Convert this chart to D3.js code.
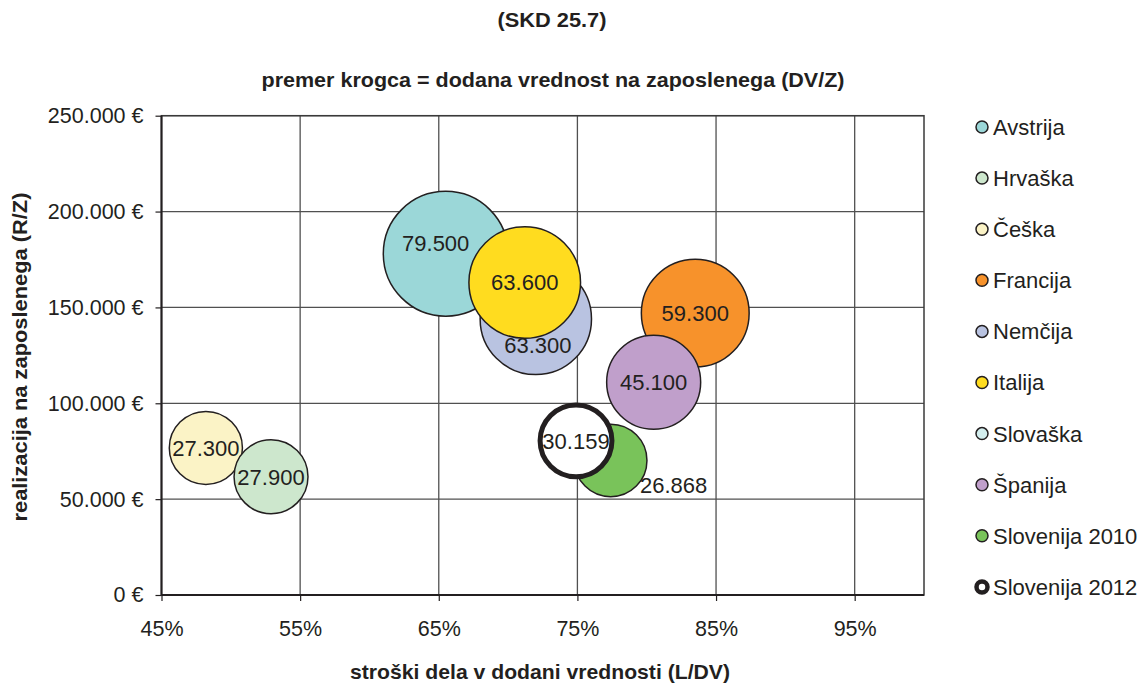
<!DOCTYPE html>
<html>
<head>
<meta charset="utf-8">
<script src="https://cdn.jsdelivr.net/npm/d3@7"></script>
<style>
  body { margin: 0; background: #fff; }
  text { font-family: "Liberation Sans", Arial, sans-serif; fill: #231f20; }
</style>
</head>
<body>
<svg id="chart" width="1141" height="685"></svg>
<script>
// data
const countries = ["Avstrija", "Hrvaška", "Češka", "Francija", "Nemčija", "Italija", "Slovaška", "Španija", "Slovenija 2010", "Slovenija 2012"];
const laborShare = [0.655, 0.529, 0.482, 0.835, 0.720, 0.712, null, 0.805, 0.774, 0.749];   // L/DV
const revenuePerEmp = [178000, 61700, 76700, 147000, 144000, 163000, null, 111000, 70200, 80400]; // R/Z
const valueAdded = [79500, 27900, 27300, 59300, 63300, 63600, null, 45100, 26868, 30159];        // DV/Z
const colors = ["#9bd7d8", "#cde7cd", "#fbf3c6", "#f7922b", "#b9c3e1", "#ffdc1f", "#d3eeee", "#c09fcb", "#79c35a", "#ffffff"];
const xTicks = [0.45, 0.55, 0.65, 0.75, 0.85, 0.95];
const yTicks = [0, 50000, 100000, 150000, 200000, 250000];

const svg = d3.select("#chart");
svg.append("rect").attr("width", 1141).attr("height", 685).attr("fill", "#fff");

const pLeft = 161.5, pRight = 924, pTop = 115.7, pBottom = 595;

const x = d3.scaleLinear().domain([0.45, 1.0]).range([pLeft, pRight]);
const y = d3.scaleLinear().domain([0, 250000]).range([pBottom, pTop]);
const r = d3.scaleSqrt().domain([0, 79500]).range([0, 62.4]);

const loc = d3.formatLocale({ decimal: ",", thousands: ".", grouping: [3], currency: ["", " €"] });
const fmtNum = loc.format(",d");
const fmtEur = d => fmtNum(d) + " €";

// grid lines
const grid = svg.append("g");
grid.selectAll(".gx").data(xTicks.slice(1)).enter().append("line")
  .attr("x1", d => x(d)).attr("x2", d => x(d))
  .attr("y1", pTop).attr("y2", pBottom)
  .attr("stroke", "#505050").attr("stroke-width", 1.3);
grid.selectAll(".gy").data(yTicks.slice(1)).enter().append("line")
  .attr("x1", pLeft).attr("x2", pRight)
  .attr("y1", d => y(d)).attr("y2", d => y(d))
  .attr("stroke", "#505050").attr("stroke-width", 1.3);

// plot border
svg.append("rect")
  .attr("x", pLeft).attr("y", pTop)
  .attr("width", pRight - pLeft).attr("height", pBottom - pTop)
  .attr("fill", "none").attr("stroke", "#3a3a3a").attr("stroke-width", 1.5);

// axes
const xAxis = svg.append("g")
  .attr("transform", `translate(0,${pBottom})`)
  .call(d3.axisBottom(x).tickValues(xTicks).tickFormat(d3.format(".0%")).tickSize(6).tickPadding(20));
const yAxis = svg.append("g")
  .attr("transform", `translate(${pLeft},0)`)
  .call(d3.axisLeft(y).tickValues(yTicks).tickFormat(fmtEur).tickSize(6).tickPadding(12));

[xAxis, yAxis].forEach(a => {
  a.select(".domain").attr("stroke", "#231f20").attr("stroke-width", 2);
  a.selectAll(".tick line").attr("stroke", "#231f20").attr("stroke-width", 1.2);
  a.selectAll(".tick text").attr("font-size", 21.5).attr("fill", "#231f20")
    .attr("font-family", "'Liberation Sans', Arial, sans-serif");
});
xAxis.select(".domain").attr("d", `M${pLeft},0H${pRight}`);
yAxis.select(".domain").attr("d", `M0,${pBottom}V${pTop}`);

// bubbles
const rows = countries.map((c, i) => ({
  name: c, lx: laborShare[i], ry: revenuePerEmp[i], dv: valueAdded[i], color: colors[i]
})).filter(d => d.dv != null);

const drawOrder = ["Avstrija", "Francija", "Nemčija", "Italija", "Španija", "Češka", "Hrvaška", "Slovenija 2010", "Slovenija 2012"];
rows.sort((a, b) => drawOrder.indexOf(a.name) - drawOrder.indexOf(b.name));

svg.append("g").selectAll("circle").data(rows).enter().append("circle")
  .attr("cx", d => x(d.lx))
  .attr("cy", d => y(d.ry))
  .attr("r", d => d.name === "Slovenija 2012" ? r(d.dv) - 2.5 : r(d.dv))
  .attr("fill", d => d.color)
  .attr("stroke", "#231f20")
  .attr("stroke-width", d => d.name === "Slovenija 2012" ? 5 : 1.5);

// label nudges where the reference moves a label off centre
const nudge = { "Avstrija": [-10, -11], "Nemčija": [2, 26], "Slovenija 2010": [63, 25] };

svg.append("g").selectAll("text").data(rows).enter().append("text")
  .attr("x", d => x(d.lx) + (nudge[d.name] ? nudge[d.name][0] : 0))
  .attr("y", d => y(d.ry) + (nudge[d.name] ? nudge[d.name][1] : 0))
  .attr("dy", "0.36em")
  .attr("text-anchor", "middle")
  .attr("font-size", 22)
  .text(d => fmtNum(d.dv));

// legend
const legend = svg.append("g");
const leg = legend.selectAll("g").data(countries).enter().append("g")
  .attr("transform", (d, i) => `translate(982,${127 + i * 51.1})`);
leg.append("circle")
  .attr("r", (d, i) => i === 9 ? 5.5 : 6)
  .attr("fill", (d, i) => colors[i])
  .attr("stroke", "#231f20")
  .attr("stroke-width", (d, i) => i === 9 ? 4.5 : 1.5);
leg.append("text")
  .attr("x", 11).attr("dy", "0.36em")
  .attr("font-size", 22)
  .text(d => d);

// titles
svg.append("text")
  .attr("x", 552).attr("y", 27)
  .attr("text-anchor", "middle").attr("font-weight", "bold").attr("font-size", 21)
  .attr("textLength", 109).attr("lengthAdjust", "spacingAndGlyphs")
  .text("(SKD 25.7)");
svg.append("text")
  .attr("x", 553).attr("y", 87)
  .attr("text-anchor", "middle").attr("font-weight", "bold").attr("font-size", 21)
  .attr("textLength", 583).attr("lengthAdjust", "spacingAndGlyphs")
  .text("premer krogca = dodana vrednost na zaposlenega (DV/Z)");
svg.append("text")
  .attr("x", 540).attr("y", 679)
  .attr("text-anchor", "middle").attr("font-weight", "bold").attr("font-size", 21)
  .attr("textLength", 380).attr("lengthAdjust", "spacingAndGlyphs")
  .text("stroški dela v dodani vrednosti (L/DV)");
svg.append("text")
  .attr("transform", "translate(27,357) rotate(-90)")
  .attr("text-anchor", "middle").attr("font-weight", "bold").attr("font-size", 20)
  .attr("textLength", 329).attr("lengthAdjust", "spacingAndGlyphs")
  .text("realizacija na zaposlenega (R/Z)");
</script>
</body>
</html>
